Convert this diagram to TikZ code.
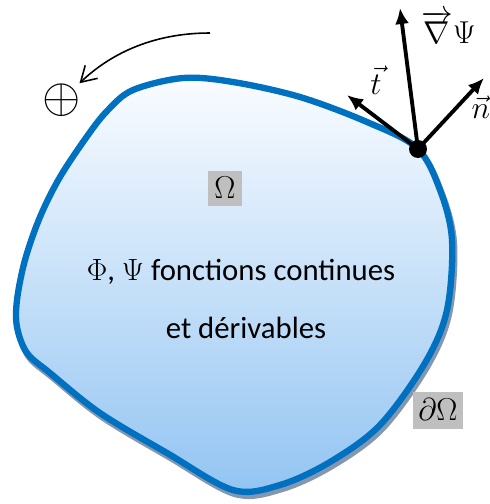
\documentclass[tikz,border=0pt]{standalone}
\usepackage{fix-cm}
\usepackage{amsmath,amssymb}
\usepackage[no-math]{fontspec}
\newfontfamily\carlito{Carlito}
\usepackage{tikz}
\usetikzlibrary{arrows.meta,positioning,calc}
\definecolor{EdgeBlue}{RGB}{0,112,192}
\definecolor{ShadowGrey}{RGB}{132,151,176}
\definecolor{TopBlue}{RGB}{250,252,255}
\definecolor{BottomBlue}{RGB}{146,196,242}
\definecolor{BoxGrey}{RGB}{191,191,191}

\begin{document}
\begin{tikzpicture}[x=0.02cm, y=-0.02cm, every node/.style={font=\fontsize{18}{20}\selectfont},
  vecarrow/.style={-{Latex[length=0.32cm,width=0.28cm]}, line width=2.2pt},
  greybox/.style={fill=BoxGrey, inner sep=1pt}]
\useasboundingbox (0,0) rectangle (490,504);
% shadow of the domain
\begin{scope}[shift={(2,4)}]
\draw[ShadowGrey, line width=3.6pt] plot[smooth cycle, tension=0.55] coordinates {(133,90) (183,78) (233,82) (300,97) (367,122) (417,148) (440,190) (452,240) (447,310) (425,363) (380,425) (330,462) (280,485) (233,490) (167,453) (100,413) (50,373) (27,353) (17,327) (17,300) (25,260) (40,217) (60,177) (88,135) (108,110)};
\end{scope}
% domain
\draw[EdgeBlue, line width=3.6pt, top color=TopBlue, bottom color=BottomBlue] plot[smooth cycle, tension=0.55] coordinates {(133,90) (183,78) (233,82) (300,97) (367,122) (417,148) (440,190) (452,240) (447,310) (425,363) (380,425) (330,462) (280,485) (233,490) (167,453) (100,413) (50,373) (27,353) (17,327) (17,300) (25,260) (40,217) (60,177) (88,135) (108,110)};

\node[greybox, minimum width=0.7cm, minimum height=0.7cm] (omega) at (225,188) {$\Omega$};
\node[greybox, minimum width=1.0cm, minimum height=0.74cm] (bdry) at (438,410) {$\partial\Omega$};
\node[font=\carlito\fontsize{17.5}{20}\selectfont] (lineA) at (241,272) {$\Phi$, $\Psi$ fonctions continues};
\node[font=\carlito\fontsize{17.5}{20}\selectfont] (lineB) at (246,328) {et dérivables};

% vectors at the boundary point
\node[circle, fill=black, inner sep=0pt, minimum size=0.36cm] (P) at (418,149) {};
\coordinate (tTip) at (347,95);
\coordinate (gTip) at (400,8);
\coordinate (nTip) at (484,78);
\draw[vecarrow] (P.center) -- (tTip);
\draw[vecarrow] (P.center) -- (gTip);
\draw[vecarrow] (P.center) -- (nTip);
\node (tLab) at (376,80) {$\vec{t}$};
\node[anchor=south west, inner sep=0pt] (gLab) at (421,44) {$\overrightarrow{\nabla}\Psi$};
\node[inner sep=0pt] (nLab) at (481,107) {$\vec{n}$};

% orientation
\node[inner sep=0pt, font=\fontsize{28}{28}\selectfont] (plus) at (62,100) {$\oplus$};
\coordinate (arcStart) at (210,33);
\draw[line width=0.9pt, -{Straight Barb[length=0.3cm,width=0.36cm]}] (arcStart) .. controls (150,33) and (108,56) .. (plus);
\end{tikzpicture}
\end{document}
